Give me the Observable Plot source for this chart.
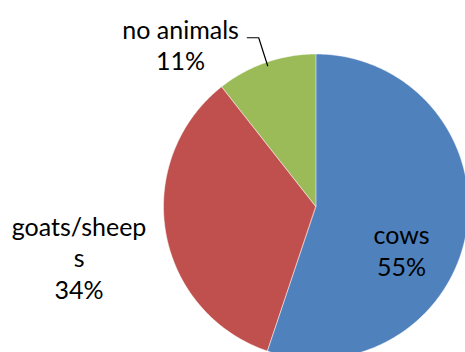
<!DOCTYPE html>
<html><head><meta charset="utf-8">
<script src="https://cdn.jsdelivr.net/npm/d3@7"></script>
<script src="https://cdn.jsdelivr.net/npm/@observablehq/plot@0.6"></script>
<style>html,body{margin:0;padding:0;background:#fff}</style>
</head><body><div id="chart"></div>
<script>
// ---- data ----
const categories = ["cows", "goats/sheeps", "no animals"];
const shares = [55.2, 34.2, 10.6];
const nameLines = [["cows"], ["goats/sheep", "s"], ["no animals"]];
const colors = ["#4F81BD", "#C0504D", "#9BBB59"];

// ---- layout (pixels / unit-radius coordinates) ----
const W = 465, H = 352, CX = 316, CY = 206.5, R = 152.5;
const labelPolar = [ {r: 0.625, deg: 116.9}, {r: 1.591, deg: 258.1}, {r: 1.389, deg: 320.1} ];
const leader = {slice: 2, fromX: -0.454, elbowX: -0.379, y: -1.110, endR: 0.98};
const FONT = "Lato, 'Open Sans', sans-serif", FS = 25;

const total = d3.sum(shares);
const rad = d => d * Math.PI / 180;
const pt = (deg, r = 1) => ({x: r * Math.sin(rad(deg)), y: -r * Math.cos(rad(deg))});

// slice angles (clockwise from 12 o'clock)
let acc = 0;
const slices = categories.map((c, i) => {
  const a0 = acc / total * 360; acc += shares[i];
  const a1 = acc / total * 360;
  return {cat: c, a0, a1, mid: (a0 + a1) / 2, i};
});

const arcPts = slices.flatMap(s => {
  const out = [];
  for (let a = s.a0; a < s.a1; a += 0.5) out.push({cat: s.cat, ...pt(a)});
  out.push({cat: s.cat, ...pt(s.a1)});
  return out;
});

const labels = slices.map(s => ({
  ...pt(labelPolar[s.i].deg, labelPolar[s.i].r),
  text: [...nameLines[s.i], Math.round(shares[s.i] / total * 100) + "%"].join("\n")
}));

const ls = slices[leader.slice];
const leaderPts = [
  {x: leader.fromX, y: leader.y},
  {x: leader.elbowX, y: leader.y},
  pt(ls.mid, leader.endR)
];

const chart = Plot.plot({
  width: W, height: H, margin: 0,
  style: {fontFamily: FONT, background: "#fff"},
  x: {domain: [-CX / R, (W - CX) / R], range: [0, W], axis: null},
  y: {domain: [-CY / R, (H - CY) / R], range: [0, H], axis: null},
  color: {domain: categories, range: colors},
  marks: [
    Plot.area(arcPts, {x1: () => 0, y1: () => 0, x2: "x", y2: "y", z: "cat", fill: "cat",
      stroke: "white", strokeWidth: 0.5, curve: "linear"}),
    Plot.line(leaderPts, {x: "x", y: "y", stroke: "black", strokeWidth: 1.2}),
    Plot.text(labels, {x: "x", y: "y", text: "text", fill: "black", fontSize: FS,
      lineHeight: 1.26, textAnchor: "middle", lineAnchor: "middle"})
  ]
});
document.getElementById("chart").append(chart);
</script>
</body></html>
